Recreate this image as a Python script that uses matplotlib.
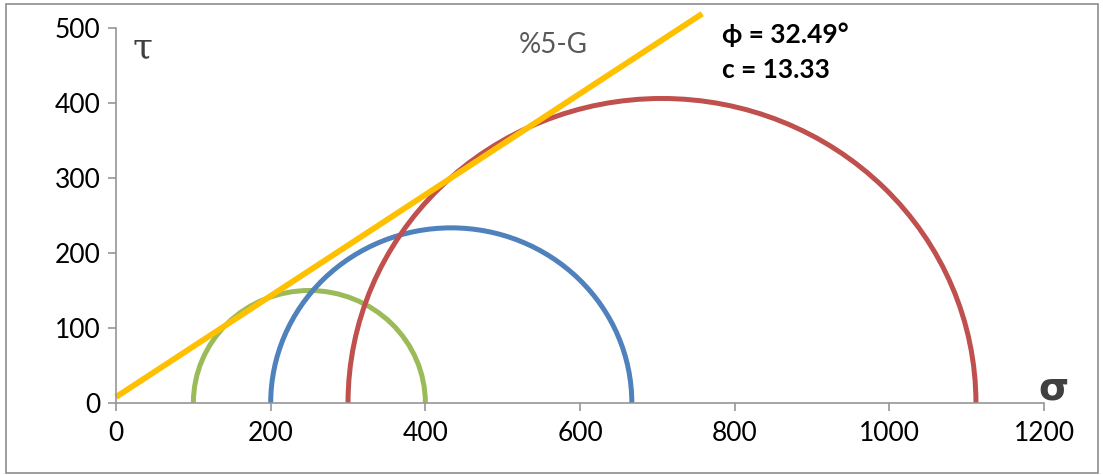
import matplotlib.pyplot as plt
from matplotlib.patches import Arc, Rectangle

# Mohr circles: (sigma3, sigma1) for each test
sigma3 = [100, 200, 300]
sigma1 = [400, 667, 1112]
circle_colors = ['#9BBB59', '#4F81BD', '#C0504D']

# failure envelope
env_x = [0, 758]
env_y = [8, 519]

x_ticks = [0, 200, 400, 600, 800, 1000, 1200]
y_ticks = [0, 100, 200, 300, 400, 500]

plt.rcParams['font.family'] = ['Lato', 'DejaVu Sans']

fig = plt.figure(figsize=(11.03, 4.75), dpi=100)
ax = fig.add_axes([0.1052, 0.1516, 0.8413, 0.7895])

for s3, s1, col in zip(sigma3, sigma1, circle_colors):
    c = (s1 + s3) / 2
    d = s1 - s3
    ax.add_patch(Arc((c, 0), d, d, theta1=0, theta2=180, color=col,
                     lw=3.6, clip_on=False, capstyle='butt'))

ax.plot(env_x, env_y, color='#FFC000', lw=4.2, clip_on=False,
        solid_capstyle='butt')

ax.set_xlim(0, 1200)
ax.set_ylim(0, 500)
ax.set_xticks(x_ticks)
ax.set_yticks(y_ticks)
for side in ['top', 'right']:
    ax.spines[side].set_visible(False)
for side in ['left', 'bottom']:
    ax.spines[side].set_color('#969696')
    ax.spines[side].set_linewidth(1.2)
ax.tick_params(colors='#969696', labelcolor='black', labelsize=19,
               length=6, width=1.2)
ax.tick_params(axis='y', pad=5)
ax.tick_params(axis='x', pad=7)

fig.text(142 / 1103, 1 - 47 / 475, 'τ', fontsize=26, color='#404040',
         family='DejaVu Serif', ha='center', va='center')
fig.text(1054 / 1103, 1 - 388 / 475, 'σ', fontsize=28, color='#404040',
         family='DejaVu Sans', fontweight='bold', ha='center', va='center')
fig.text(553 / 1103, 1 - 45 / 475, '%5-G', fontsize=20, color='#595959',
         ha='center', va='center')
fig.text(722 / 1103, 1 - 35 / 475, 'ϕ = 32.49°', fontsize=19,
         fontweight='bold', ha='left', va='center')
fig.text(722 / 1103, 1 - 70 / 475, 'c = 13.33', fontsize=19,
         fontweight='bold', ha='left', va='center')

fig.patches.append(Rectangle((6 / 1103, 2 / 475), 1092 / 1103, 469 / 475,
                             transform=fig.transFigure, fill=False,
                             edgecolor='#8C8C8C', lw=1.2))

fig.savefig('out.png', dpi=100)
